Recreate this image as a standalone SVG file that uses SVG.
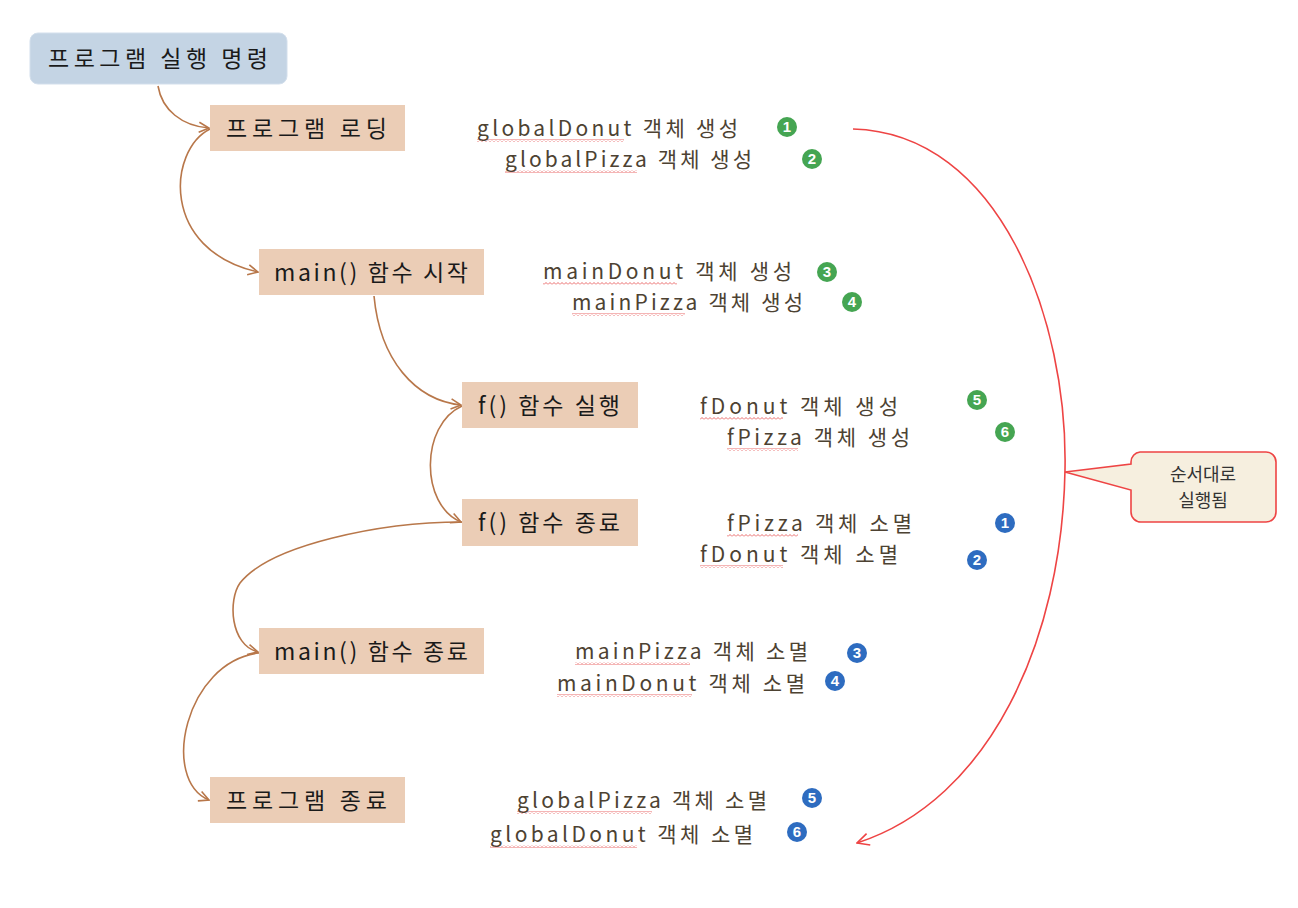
<svg xmlns="http://www.w3.org/2000/svg" width="1298" height="908" viewBox="0 0 1298 908">
<style>
  .node { fill: #ebcdb6; }
  .start { fill: #c4d4e4; stroke: #d3dfec; stroke-width: 1; }
  .ntext { font-family: "Noto Sans CJK KR", "Liberation Sans", sans-serif; font-size: 23px; fill: #1a1a1a; }
  .otext { font-family: "Noto Sans CJK KR", "Liberation Sans", sans-serif; font-size: 21px; fill: #4d4232; }
  .flow { fill: none; stroke: #b8774a; stroke-width: 1.6; marker-end: url(#brownArrow); }
  .order { fill: none; stroke: #ee4444; stroke-width: 1.6; marker-end: url(#redArrow); }
  .green { fill: #45a552; }
  .blue { fill: #2e6cc0; }
  .num { font-family: "Liberation Sans", "DejaVu Sans", sans-serif; font-size: 15px; font-weight: bold; fill: #ffffff; text-anchor: middle; }
  .wave { fill: url(#wave); }
  .ctext { font-family: "Noto Sans CJK KR", "Liberation Sans", sans-serif; font-size: 18px; fill: #333333; text-anchor: middle; }
</style>
<defs>
  <marker id="brownArrow" viewBox="0 0 12 12" refX="11" refY="6" markerWidth="12" markerHeight="12" markerUnits="userSpaceOnUse" orient="auto">
    <path d="M1,1 L11,6 L1,11" fill="none" stroke="#b8774a" stroke-width="1.6"/>
  </marker>
  <marker id="redArrow" viewBox="0 0 14 14" refX="13" refY="7" markerWidth="14" markerHeight="14" markerUnits="userSpaceOnUse" orient="auto">
    <path d="M1,1 L13,7 L1,13" fill="none" stroke="#ee4444" stroke-width="1.6"/>
  </marker>
  <pattern id="wave" x="0" y="0" width="4" height="3" patternUnits="userSpaceOnUse">
    <path d="M0,2.5 L2,0.5 L4,2.5" fill="none" stroke="#e85a5a" stroke-width="0.9"/>
  </pattern>
</defs>

<g id="connectors">
  <path class="flow" d="M158,86 C162,110 182,126 209,128"/>
  <path class="flow" d="M210,129 C168,150 160,250 258,272"/>
  <path class="flow" d="M374,296 C380,360 415,400 461,405"/>
  <path class="flow" d="M462,406 C420,425 420,505 461,522"/>
  <path class="flow" d="M462,522 C380,522 270,545 240,583 C228,600 230,645 258,652"/>
  <path class="flow" d="M259,653 C185,662 160,780 209,800"/>
  <path class="order" d="M853,129 C1000,133 1068,320 1065,470 C1062,640 990,800 857,843"/>
</g>

<g id="node-start">
  <rect class="start" x="30" y="33" width="257" height="51" rx="8"/>
  <text class="ntext" x="48" y="67" textLength="220" lengthAdjust="spacing">프로그램 실행 명령</text>
</g>
<g id="node-loading">
  <rect class="node" x="210" y="105" width="195" height="46"/>
  <text class="ntext" x="226" y="137" textLength="161" lengthAdjust="spacing">프로그램 로딩</text>
</g>
<g id="node-main-start">
  <rect class="node" x="259" y="249" width="225" height="46"/>
  <text class="ntext" x="274" y="281" textLength="194" lengthAdjust="spacing">main() 함수 시작</text>
</g>
<g id="node-f-run">
  <rect class="node" x="462" y="382" width="176" height="46"/>
  <text class="ntext" x="478" y="414" textLength="142" lengthAdjust="spacing">f() 함수 실행</text>
</g>
<g id="node-f-end">
  <rect class="node" x="462" y="499" width="176" height="47"/>
  <text class="ntext" x="478" y="531" textLength="142" lengthAdjust="spacing">f() 함수 종료</text>
</g>
<g id="node-main-end">
  <rect class="node" x="259" y="628" width="225" height="46"/>
  <text class="ntext" x="274" y="660" textLength="194" lengthAdjust="spacing">main() 함수 종료</text>
</g>
<g id="node-end">
  <rect class="node" x="210" y="777" width="195" height="46"/>
  <text class="ntext" x="226" y="809" textLength="161" lengthAdjust="spacing">프로그램 종료</text>
</g>

<g id="callout">
  <path d="M1140,452 H1266 A10,10 0 0 1 1276,462 V512 A10,10 0 0 1 1266,522 H1141 A10,10 0 0 1 1131,512 V490 L1065,472 L1131,464 V462 A10,10 0 0 1 1140,452 Z" fill="#f6efdf" stroke="#ee4444" stroke-width="1.6"/>
  <text class="ctext" x="1203" y="481">순서대로</text>
  <text class="ctext" x="1203" y="507">실행됨</text>
</g>

<g id="labels">
  <rect class="wave" x="477" y="139" width="147" height="3"/>
  <text class="otext" x="477" y="136" textLength="261" lengthAdjust="spacing">globalDonut 객체 생성</text>
  <rect class="wave" x="505" y="170" width="132" height="3"/>
  <text class="otext" x="505" y="167" textLength="247" lengthAdjust="spacing">globalPizza 객체 생성</text>
  <rect class="wave" x="543" y="282" width="134" height="3"/>
  <text class="otext" x="543" y="279" textLength="249" lengthAdjust="spacing">mainDonut 객체 생성</text>
  <rect class="wave" x="572" y="313" width="113" height="3"/>
  <text class="otext" x="572" y="310" textLength="231" lengthAdjust="spacing">mainPizza 객체 생성</text>
  <rect class="wave" x="700" y="417" width="83" height="3"/>
  <text class="otext" x="700" y="414" textLength="198" lengthAdjust="spacing">fDonut 객체 생성</text>
  <rect class="wave" x="727" y="448" width="71" height="3"/>
  <text class="otext" x="727" y="445" textLength="183" lengthAdjust="spacing">fPizza 객체 생성</text>
  <rect class="wave" x="727" y="534" width="71" height="3"/>
  <text class="otext" x="727" y="531" textLength="185" lengthAdjust="spacing">fPizza 객체 소멸</text>
  <rect class="wave" x="700" y="565" width="83" height="3"/>
  <text class="otext" x="700" y="562" textLength="198" lengthAdjust="spacing">fDonut 객체 소멸</text>
  <rect class="wave" x="575" y="662" width="115" height="3"/>
  <text class="otext" x="575" y="659" textLength="233" lengthAdjust="spacing">mainPizza 객체 소멸</text>
  <rect class="wave" x="557" y="694" width="135" height="3"/>
  <text class="otext" x="557" y="691" textLength="248" lengthAdjust="spacing">mainDonut 객체 소멸</text>
  <rect class="wave" x="517" y="811" width="135" height="3"/>
  <text class="otext" x="517" y="808" textLength="250" lengthAdjust="spacing">globalPizza 객체 소멸</text>
  <rect class="wave" x="490" y="845" width="147" height="3"/>
  <text class="otext" x="490" y="842" textLength="263" lengthAdjust="spacing">globalDonut 객체 소멸</text>
</g>

<g id="badges">
  <circle class="green" cx="787" cy="127" r="10"/><text class="num" x="787" y="132">1</text>
  <circle class="green" cx="812" cy="159" r="10"/><text class="num" x="812" y="164">2</text>
  <circle class="green" cx="827" cy="272" r="10"/><text class="num" x="827" y="277">3</text>
  <circle class="green" cx="852" cy="302" r="10"/><text class="num" x="852" y="307">4</text>
  <circle class="green" cx="977" cy="400" r="10"/><text class="num" x="977" y="405">5</text>
  <circle class="green" cx="1005" cy="432" r="10"/><text class="num" x="1005" y="437">6</text>
  <circle class="blue" cx="1005" cy="523" r="10"/><text class="num" x="1005" y="528">1</text>
  <circle class="blue" cx="977" cy="560" r="10"/><text class="num" x="977" y="565">2</text>
  <circle class="blue" cx="857" cy="653" r="10"/><text class="num" x="857" y="658">3</text>
  <circle class="blue" cx="835" cy="681" r="10"/><text class="num" x="835" y="686">4</text>
  <circle class="blue" cx="812" cy="798" r="10"/><text class="num" x="812" y="803">5</text>
  <circle class="blue" cx="797" cy="832" r="10"/><text class="num" x="797" y="837">6</text>
</g>
</svg>
